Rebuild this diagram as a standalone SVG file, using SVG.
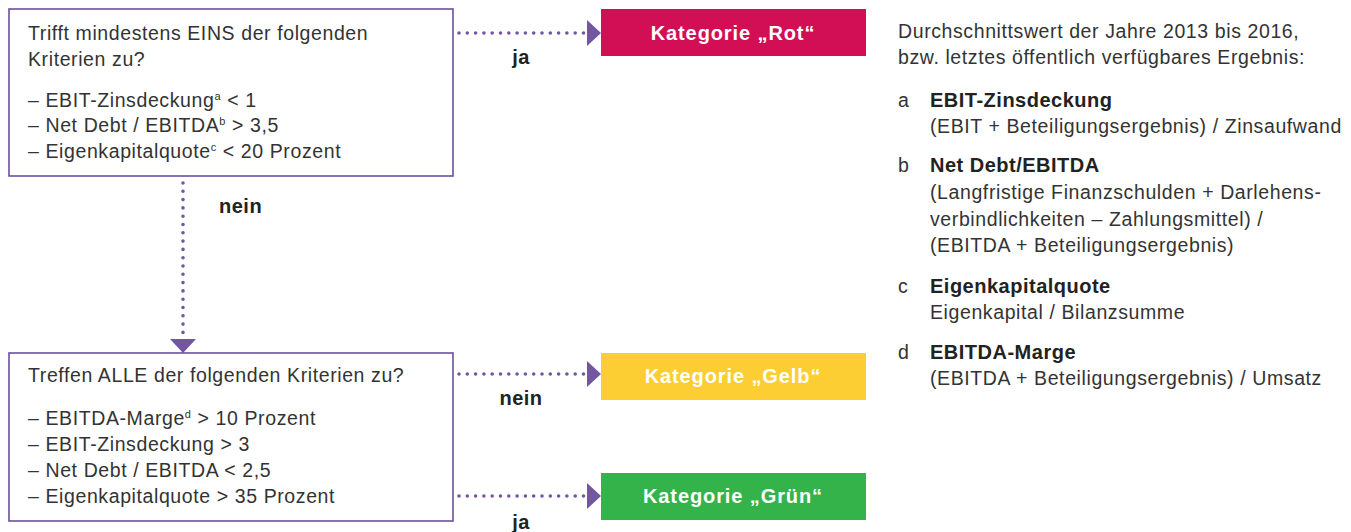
<svg xmlns="http://www.w3.org/2000/svg" width="1351" height="532" viewBox="0 0 1351 532">
<style>
.box{fill:#fff;stroke:#6b4f9e;stroke-width:1.6}
.t{font-family:"Liberation Sans",Arial,sans-serif;font-size:19.5px;letter-spacing:0.6px;fill:#333}
.b{font-family:"Liberation Sans",Arial,sans-serif;font-size:20px;letter-spacing:0.5px;font-weight:bold;fill:#222}
.cat{font-family:"Liberation Sans",Arial,sans-serif;font-size:20px;letter-spacing:0.9px;font-weight:bold;fill:#fff;text-anchor:middle}
.sup{font-size:11px}
.dot{fill:none;stroke:#7256a4;stroke-width:3.6;stroke-linecap:round;stroke-dasharray:0 8.3}
.head{fill:#7256a4}
</style>
<rect width="1351" height="532" fill="#fff"/>
<g id="connectors">
  <line class="dot" x1="459" y1="33" x2="585" y2="33"/>
  <polygon class="head" points="587,20 601,33 587,46"/>
  <line class="dot" x1="183" y1="183" x2="183" y2="335"/>
  <polygon class="head" points="170,339 196,339 183,353"/>
  <line class="dot" x1="459" y1="374" x2="585" y2="374"/>
  <polygon class="head" points="587,361 601,374 587,387"/>
  <line class="dot" x1="459" y1="496" x2="585" y2="496"/>
  <polygon class="head" points="587,483 601,496 587,509"/>
  <text class="b" x="521" y="64" text-anchor="middle">ja</text>
  <text class="b" x="219" y="213">nein</text>
  <text class="b" x="521" y="405" text-anchor="middle">nein</text>
  <text class="b" x="521" y="529" text-anchor="middle">ja</text>
</g>
<g id="q1">
  <rect class="box" x="9" y="9" width="444" height="167"/>
  <text class="t" x="28" y="40">Trifft mindestens EINS der folgenden</text>
  <text class="t" x="28" y="66">Kriterien zu?</text>
  <text class="t" x="28" y="107">– EBIT-Zinsdeckung<tspan class="sup" dy="-7">a</tspan><tspan dy="7"> &lt; 1</tspan></text>
  <text class="t" x="28" y="132">– Net Debt / EBITDA<tspan class="sup" dy="-7">b</tspan><tspan dy="7"> &gt; 3,5</tspan></text>
  <text class="t" x="28" y="158">– Eigenkapitalquote<tspan class="sup" dy="-7">c</tspan><tspan dy="7"> &lt; 20 Prozent</tspan></text>
</g>
<g id="q2">
  <rect class="box" x="9" y="353" width="444" height="168"/>
  <text class="t" x="28" y="382">Treffen ALLE der folgenden Kriterien zu?</text>
  <text class="t" x="28" y="425">– EBITDA-Marge<tspan class="sup" dy="-7">d</tspan><tspan dy="7"> &gt; 10 Prozent</tspan></text>
  <text class="t" x="28" y="451">– EBIT-Zinsdeckung &gt; 3</text>
  <text class="t" x="28" y="477">– Net Debt / EBITDA &lt; 2,5</text>
  <text class="t" x="28" y="503">– Eigenkapitalquote &gt; 35 Prozent</text>
</g>
<g id="rot">
  <rect x="601" y="9" width="265" height="47" fill="#d20f55"/>
  <text class="cat" x="733" y="40">Kategorie „Rot“</text>
</g>
<g id="gelb">
  <rect x="601" y="353" width="265" height="47" fill="#fdcd34"/>
  <text class="cat" x="733" y="383">Kategorie „Gelb“</text>
</g>
<g id="gruen">
  <rect x="601" y="473" width="265" height="47" fill="#33b34a"/>
  <text class="cat" x="733" y="503">Kategorie „Grün“</text>
</g>
<g id="legend">
  <text class="t" x="898" y="38" letter-spacing="0.5">Durchschnittswert der Jahre 2013 bis 2016,</text>
  <text class="t" x="898" y="64" letter-spacing="0.5">bzw. letztes öffentlich verfügbares Ergebnis:</text>
  <text class="t" x="898" y="107">a</text>
  <text class="b" x="930" y="107">EBIT-Zinsdeckung</text>
  <text class="t" x="930" y="133" letter-spacing="0.45">(EBIT + Beteiligungsergebnis) / Zinsaufwand</text>
  <text class="t" x="898" y="172">b</text>
  <text class="b" x="930" y="172">Net Debt/EBITDA</text>
  <text class="t" x="930" y="199" letter-spacing="0.5">(Langfristige Finanzschulden + Darlehens-</text>
  <text class="t" x="930" y="226" letter-spacing="0.5">verbindlichkeiten – Zahlungsmittel) /</text>
  <text class="t" x="930" y="252" letter-spacing="0.5">(EBITDA + Beteiligungsergebnis)</text>
  <text class="t" x="898" y="293">c</text>
  <text class="b" x="930" y="293">Eigenkapitalquote</text>
  <text class="t" x="930" y="319" letter-spacing="0.5">Eigenkapital / Bilanzsumme</text>
  <text class="t" x="898" y="359">d</text>
  <text class="b" x="930" y="359">EBITDA-Marge</text>
  <text class="t" x="930" y="385" letter-spacing="0.5">(EBITDA + Beteiligungsergebnis) / Umsatz</text>
</g>
</svg>
